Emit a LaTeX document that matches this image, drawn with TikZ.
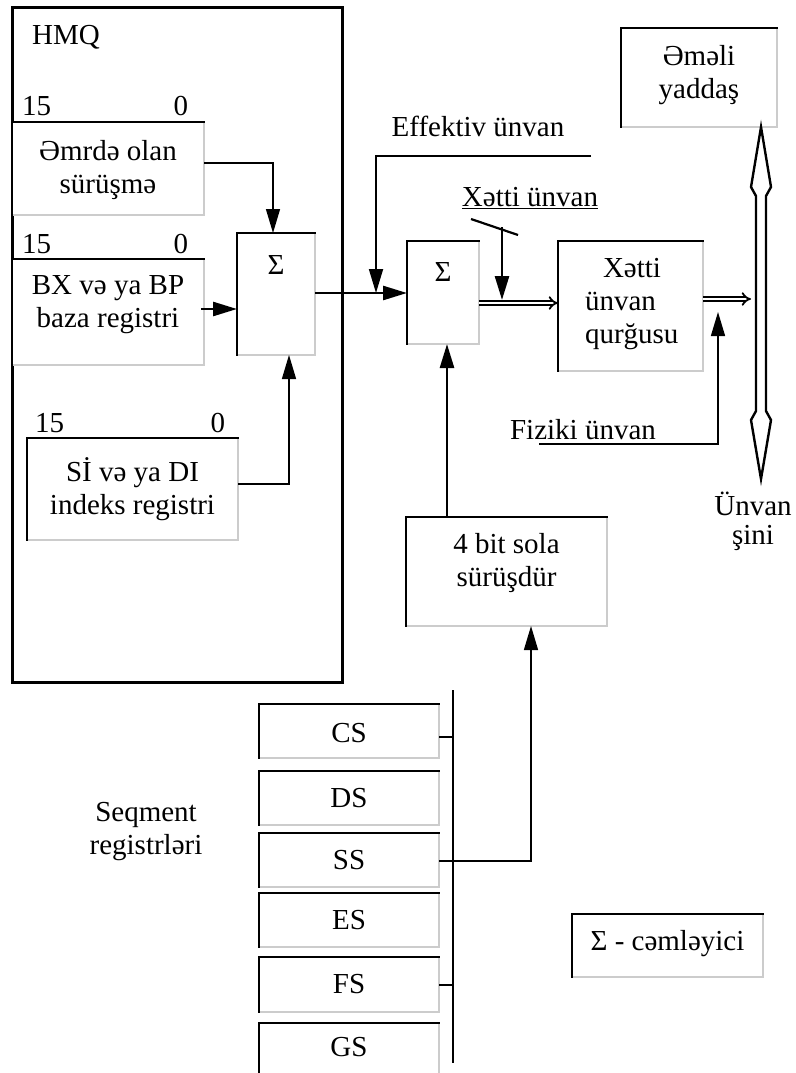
\documentclass[tikz,border=0pt]{standalone}
\usepackage{fontspec}
\setmainfont{Liberation Serif}
\usetikzlibrary{arrows.meta}
\newcommand\regbox[7]{%
  \node[regshape, minimum width={#4-#2}, minimum height={#5-#3}] (#1) at ({(#2+#4)/2},{(#3+#5)/2}) {};
  \draw[regedge] (#1.south west) -- (#1.north west) -- (#1.north east);
  \node[txt] (#1-t) at ({(#2+#4)/2},#6) {#7};
}
\begin{document}
\begin{tikzpicture}[x=1pt,y=-1pt,
  every node/.style={inner sep=0pt, outer sep=0pt, font=\fontsize{29}{33}\selectfont},
  txt/.style={align=center},
  regshape/.style={rectangle, draw=black!20, line width=2pt, fill=white},
  regedge/.style={line width=2.4pt, line cap=rect},
  thin/.style={line width=1.4pt},
  thick/.style={line width=2.6pt},
  tip/.style={-{Triangle[length=24pt,width=14pt]}},
  dbl/.style={double, double distance=2.6pt, line width=1.8pt, -{Implies}},
]
\useasboundingbox (0,0) rectangle (795,1073);

% HMQ block
\draw[line width=3pt] (12,8) rectangle (342,682);
\node (hmq) at (66,37) {HMQ};

\regbox{b1}{12}{122}{204}{215}{170}{Əmrdə olan\\sürüşmə}
\regbox{b2}{12}{259}{204}{365}{305}{BX və ya BP\\baza registri}
\regbox{b3}{27}{438}{238}{540}{489}{Sİ və ya DI\\indeks registri}
\node[anchor=base west] (n15a) at (22,115) {15};
\node[anchor=base east] (n0a) at (188,115) {0};
\node[anchor=base west] (n15b) at (22,253) {15};
\node[anchor=base east] (n0b) at (188,253) {0};
\node[anchor=base west] (n15c) at (35,432) {15};
\node[anchor=base east] (n0c) at (225,432) {0};

% adders
\regbox{s1}{237}{233}{315}{355}{265}{Σ}
\regbox{s2}{407}{241}{479}{344}{272}{Σ}

% linear address unit
\regbox{xq}{558}{241}{703}{371}{306}{}
\node[align=left, anchor=west] (xqt) at (585,304) {\hspace*{18pt}Xətti\\ünvan\\qurğusu};

% memory
\regbox{em}{621}{28}{777}{127}{75}{Əməli\\yaddaş}

% shift unit
\regbox{fb}{406}{517}{607}{626}{563}{4 bit sola\\sürüşdür}

% segment registers
\regbox{cs}{259}{704}{439}{758}{733}{CS}
\regbox{ds}{259}{771}{439}{825}{798}{DS}
\regbox{ss}{259}{833}{439}{887}{860}{SS}
\regbox{es}{259}{893}{439}{947}{920}{ES}
\regbox{fs}{259}{957}{439}{1012}{984}{FS}
\regbox{gs}{259}{1023}{439}{1090}{1047}{GS}
\node[txt] (seq) at (146,832) {Seqment\\registrləri};

% legend
\regbox{leg}{572}{914}{763}{977}{944}{Σ - cəmləyici}

% labels
\node (eff) at (478,126) {Effektiv ünvan};
\node (xu) at (530,198) {\underline{Xətti ünvan}};
\node (fiz) at (583,430) {Fiziki ünvan};
\node[txt] (sini) at (753,521) {Ünvan\\[-4pt]şini};

% coordinates
\coordinate (effend) at (591,156);
\coordinate (fizend) at (539,444);
\coordinate (sl1) at (471,219);
\coordinate (sl2) at (518,235);
\coordinate (bustop) at (761,127);
\coordinate (busbot) at (761,479);
\coordinate (segtop) at (453,690);
\coordinate (segbot) at (453,1063);

% connectors into first adder
\draw[thin,tip] (b1.east |- 0,163) -| (s1.north -| 273,0);
\draw[thick,tip] (201,309) -- (s1.west |- 0,309);
\draw[thin,tip] (b3.east |- 0,484) -| (s1.south -| 289,0);

% first to second adder
\draw[thick,tip] (s1.east |- 0,293) -- (s2.west |- 0,293);
\draw[line width=1.8pt,tip] (effend) -| (376,293);

% linear address
\draw[line width=2.2pt] (sl1) -- (sl2);
\draw[thick,tip] (502,227) -- (502,300);
\draw[dbl] (s2.east |- 0,303) -- (xq.west |- 0,303);
\draw[dbl] (xq.east |- 0,299) -- (751,299);
\draw[thin,tip] (fizend) -| (718,312);

% shift to adder
\draw[thick,tip] (fb.north -| 447,0) -- (s2.south -| 447,0);

% segment bus
\draw[line width=2.6pt] (segtop) -- (segbot);
\draw[thin] (cs.east |- 0,737) -- (453,737);
\draw[thin] (ss.east |- 0,861) -- (453,861);
\draw[thin] (fs.east |- 0,985) -- (453,985);
\draw[thin,tip] (453,861) -| (fb.south -| 531,0);

% address bus
\draw[line width=2.4pt, fill=white, line join=miter]
  (bustop) -- (771,187) -- (766,196) -- (766,411) -- (771,420) -- (busbot)
  -- (751,420) -- (756,411) -- (756,196) -- (751,187) -- cycle;
\end{tikzpicture}
\end{document}
